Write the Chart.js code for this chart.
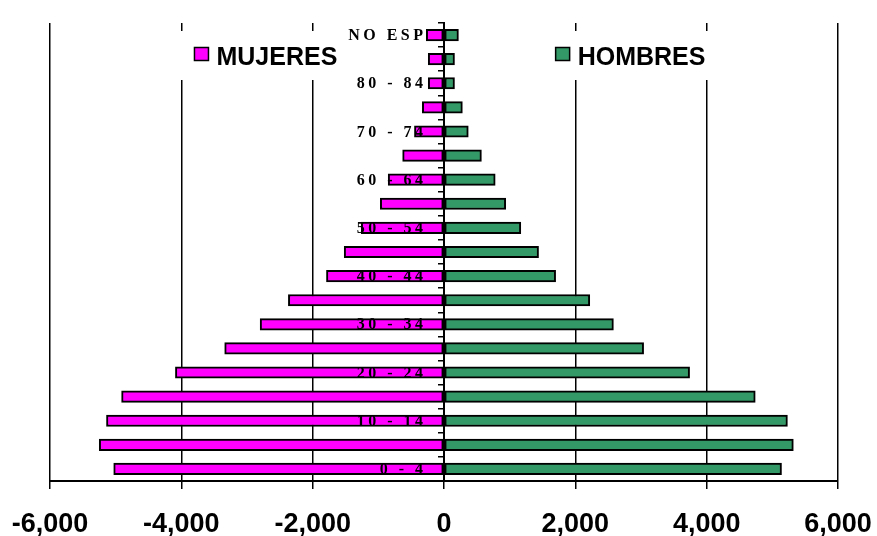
<!DOCTYPE html>
<html>
<head>
<meta charset="utf-8">
<script src="https://cdn.jsdelivr.net/npm/chart.js@4"></script>
<style>
  html, body { margin: 0; padding: 0; background: #fff; }
  canvas { display: block; }
</style>
</head>
<body>
<canvas id="pyramid" width="877" height="536"></canvas>
<script>
// Grupos de edad (de abajo hacia arriba)
const grupos = ['0 - 4', '5 - 9', '10 - 14', '15 - 19', '20 - 24', '25 - 29', '30 - 34',
    '35 - 39', '40 - 44', '45 - 49', '50 - 54', '55 - 59', '60 - 64', '65 - 69',
    '70 - 74', '75 - 79', '80 - 84', '85 Y +', 'NO ESP'];

const mujeres = [5030, 5250, 5140, 4910, 4090, 3340, 2800, 2370, 1790, 1520,
    1260, 970, 850, 630, 450, 330, 240, 240, 270];

const hombres = [5140, 5320, 5230, 4740, 3740, 3040, 2580, 2220, 1700, 1440,
    1170, 940, 780, 570, 370, 280, 160, 160, 220];

const xTicks = [-6000, -4000, -2000, 0, 2000, 4000, 6000];

const ROSA = '#FF00FF';
const VERDE = '#339966';

// Etiquetas de edad dibujadas encima de las barras, junto al eje 0
const edadLabels = {
    id: 'edadLabels',
    afterDatasetsDraw(chart) {
        const ctx = chart.ctx;
        const x0 = chart.scales.x.getPixelForValue(0);
        const sp = 3.5;
        ctx.save();
        ctx.font = 'bold 16px "Liberation Serif", "Times New Roman", serif';
        ctx.fillStyle = '#000';
        ctx.textAlign = 'right';
        ctx.textBaseline = 'middle';
        ctx.letterSpacing = sp + 'px';
        grupos.forEach((g, i) => {
            if (i % 2 !== 0) return;
            const y = chart.scales.y.getPixelForValue(i);
            ctx.fillText(g, x0 - 21 + sp, y + 1);
        });
        ctx.restore();
    }
};

// Leyendas dentro del área del gráfico
const leyendas = {
    id: 'leyendas',
    afterDraw(chart) {
        const ctx = chart.ctx;
        const xs = chart.scales.x;
        const items = [
            { text: 'MUJERES', color: ROSA, at: -3800, box: [-4100, -1550] },
            { text: 'HOMBRES', color: VERDE, at: 1700, box: [1450, 4070] }
        ];
        ctx.save();
        items.forEach(it => {
            const bx1 = xs.getPixelForValue(it.box[0]);
            const bx2 = xs.getPixelForValue(it.box[1]);
            ctx.fillStyle = '#fff';
            ctx.fillRect(bx1, 31, bx2 - bx1, 49);
            const sx = xs.getPixelForValue(it.at);
            ctx.fillStyle = it.color;
            ctx.fillRect(sx, 47.5, 14, 13);
            ctx.strokeStyle = '#000';
            ctx.lineWidth = 1.5;
            ctx.strokeRect(sx, 47.5, 14, 13);
            ctx.fillStyle = '#000';
            ctx.font = 'bold 25px "Liberation Sans", Arial, sans-serif';
            ctx.textAlign = 'left';
            ctx.textBaseline = 'alphabetic';
            ctx.fillText(it.text, sx + 22, 65);
        });
        ctx.restore();
    }
};

new Chart(document.getElementById('pyramid'), {
    type: 'bar',
    data: {
        labels: grupos,
        datasets: [{
            label: 'MUJERES',
            data: mujeres.map(v => -v),
            backgroundColor: ROSA,
            borderColor: '#000',
            borderWidth: 2,
            borderSkipped: false,
            barThickness: 11.5
        }, {
            label: 'HOMBRES',
            data: hombres,
            backgroundColor: VERDE,
            borderColor: '#000',
            borderWidth: 2,
            borderSkipped: false,
            barThickness: 11.5
        }]
    },
    options: {
        indexAxis: 'y',
        responsive: false,
        animation: false,
        layout: { padding: { left: 50, right: 39, top: 23, bottom: 0 } },
        plugins: {
            legend: { display: false },
            tooltip: { enabled: false }
        },
        scales: {
            x: {
                min: -6000,
                max: 6000,
                stacked: true,
                afterBuildTicks: s => { s.ticks = xTicks.map(v => ({ value: v })); },
                afterFit: s => {
                    s.height = 55;
                    s.paddingLeft = 0;
                    s.paddingRight = 0;
                },
                ticks: {
                    color: '#000',
                    maxRotation: 0,
                    autoSkip: false,
                    padding: 22,
                    font: { family: '"Liberation Sans", Arial, sans-serif', size: 27, weight: 'bold', lineHeight: 1 },
                    callback: v => Number(v).toLocaleString('en-US')
                },
                grid: { color: '#000', lineWidth: 1.5, tickLength: 8, tickColor: '#000' },
                border: { color: '#000', width: 2 }
            },
            y: {
                stacked: true,
                reverse: true,
                position: { x: 0 },
                ticks: { display: false },
                grid: { drawOnChartArea: false, drawTicks: true, tickLength: 5, color: '#000', lineWidth: 1.5 },
                border: { color: '#000', width: 2 },
                afterFit: s => {
                    s.width = 0;
                    s.paddingTop = 0;
                    s.paddingBottom = 0;
                }
            }
        }
    },
    plugins: [edadLabels, leyendas]
});
</script>
</body>
</html>
